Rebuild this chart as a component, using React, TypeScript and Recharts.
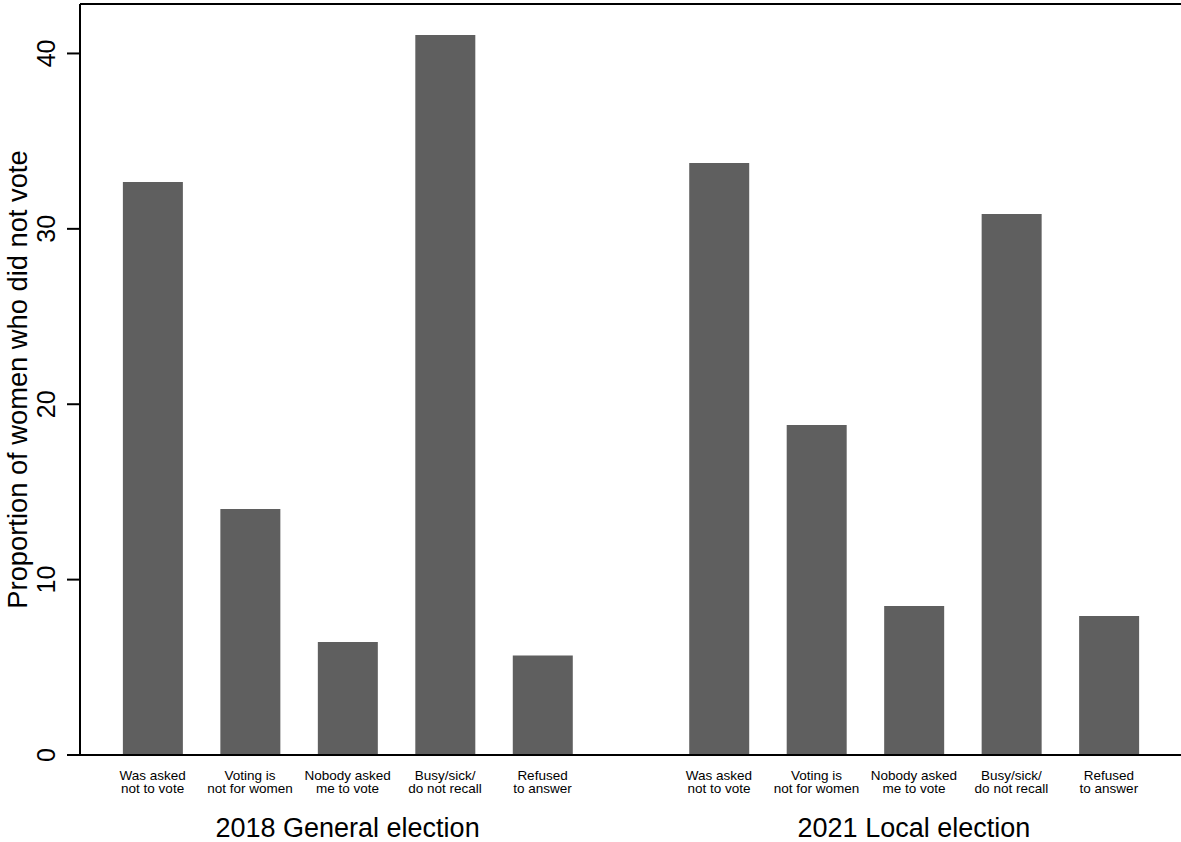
import React from "react";
import { BarChart, Bar, XAxis, YAxis, ReferenceLine } from "recharts";

const elections = ["2018 General election", "2021 Local election"];
const reasons = [
  ["Was asked", "not to vote"],
  ["Voting is", "not for women"],
  ["Nobody asked", "me to vote"],
  ["Busy/sick/", "do not recall"],
  ["Refused", "to answer"],
];
const values2018 = [32.67, 14.03, 6.44, 41.05, 5.68];
const values2021 = [33.75, 18.81, 8.49, 30.84, 7.92];
const yTicks = [0, 10, 20, 30, 40];

const FONT = "'Liberation Sans', Arial, Helvetica, sans-serif";
const Y_MAX = 42.82;
const GROUP_STRIDE = 5.81;
const X_MIN = -0.745;
const X_MAX = 10.55;

const seriesByElection = [values2018, values2021];
const data = elections.flatMap((election, g) =>
  seriesByElection[g].map((v, i) => ({
    pos: g * GROUP_STRIDE + i,
    value: v,
    election,
    reason: i,
  }))
);

const CategoryTick = (props: any) => {
  const { x, y, payload } = props;
  const d = data.find((e) => Math.abs(e.pos - payload.value) < 1e-6);
  if (!d) return null;
  const [l1, l2] = reasons[d.reason];
  return (
    <g>
      <text x={x} y={y + 23} textAnchor="middle" fontSize={13.5} fontFamily={FONT} fill="#000">
        {l1}
      </text>
      <text x={x} y={y + 36} textAnchor="middle" fontSize={13.5} fontFamily={FONT} fill="#000">
        {l2}
      </text>
      {d.reason === 2 && (
        <text x={x} y={y + 80} textAnchor="middle" fontSize={27} fontFamily={FONT} fill="#000">
          {d.election}
        </text>
      )}
    </g>
  );
};

const ValueTick = (props: any) => {
  const { y, payload } = props;
  const bx = 55;
  return (
    <text
      x={bx}
      y={y}
      transform={`rotate(-90, ${bx}, ${y})`}
      textAnchor="middle"
      fontSize={25}
      fontFamily={FONT}
      fill="#000"
    >
      {payload.value}
    </text>
  );
};

const YLabel = (props: any) => {
  const { viewBox } = props;
  const cy = viewBox.y + viewBox.height / 2;
  const bx = 27;
  return (
    <text
      x={bx}
      y={cy}
      transform={`rotate(-90, ${bx}, ${cy})`}
      textAnchor="middle"
      fontSize={27.3}
      fontFamily={FONT}
      fill="#000"
    >
      Proportion of women who did not vote
    </text>
  );
};

export default function App() {
  return (
    <div style={{ position: "absolute", left: 0, top: 0, width: 1181, height: 842, background: "#fff" }}>
      <BarChart width={1181} height={842} data={data} margin={{ top: 4, right: 0, left: 0, bottom: 0 }}>
        <XAxis
          type="number"
          dataKey="pos"
          domain={[X_MIN, X_MAX]}
          allowDataOverflow
          ticks={data.map((d) => d.pos)}
          interval={0}
          tick={<CategoryTick />}
          tickLine={false}
          tickSize={0}
          height={87}
          axisLine={{ stroke: "#000", strokeWidth: 2 }}
        />
        <YAxis
          type="number"
          domain={[0, Y_MAX]}
          allowDataOverflow
          ticks={yTicks}
          interval={0}
          width={80}
          tickSize={13}
          tick={<ValueTick />}
          tickLine={{ stroke: "#000", strokeWidth: 2 }}
          axisLine={{ stroke: "#000", strokeWidth: 2 }}
          label={<YLabel />}
        />
        <ReferenceLine y={Y_MAX} stroke="#000" strokeWidth={2} />
        <Bar dataKey="value" fill="#5f5f5f" barSize={60} isAnimationActive={false} />
      </BarChart>
    </div>
  );
}
